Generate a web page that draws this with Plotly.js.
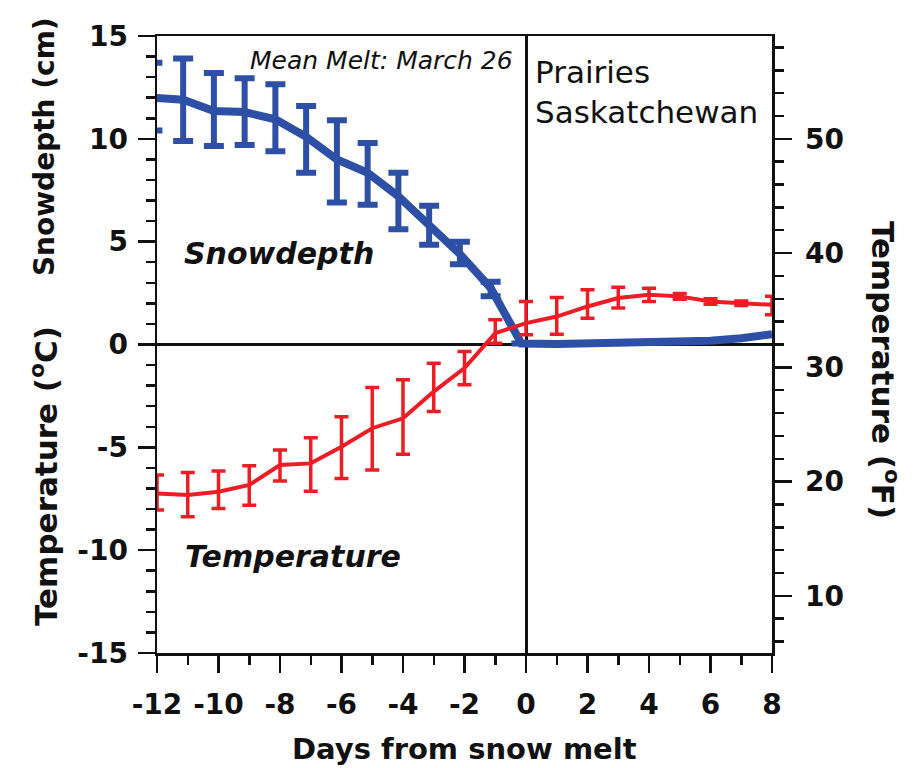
<!DOCTYPE html>
<html>
<head>
<meta charset="utf-8">
<script src="https://cdn.plot.ly/plotly-3.0.1.min.js"></script>
<style>html,body{margin:0;padding:0;background:#fff;}#chart{width:920px;height:768px;}</style>
</head>
<body>
<div id="chart"></div>
<script>
// Snow depth (cm), days from snow melt
var snowDays = [-12.15, -11.15, -10.15, -9.15, -8.15, -7.15, -6.15, -5.15, -4.15, -3.15, -2.15, -1.15, -0.15, 1, 2, 3, 4, 5, 6, 7, 8];
var snowDepth = [12.0, 11.9, 11.35, 11.3, 10.95, 10.1, 9.0, 8.35, 7.2, 5.8, 4.4, 2.75, 0.05, 0.02, 0.04, 0.06, 0.08, 0.12, 0.18, 0.3, 0.5];
var snowErrPlus = [1.7, 2.0, 1.85, 1.65, 1.7, 1.5, 1.9, 1.45, 1.15, 0.95, 0.6, 0.3, 0];
var snowErrMinus = [1.6, 2.0, 1.7, 1.6, 1.55, 1.75, 2.1, 1.55, 1.6, 0.95, 0.5, 0.4, 0];

// Air temperature (deg C)
var tempDays = [-12, -11, -10, -9, -8, -7, -6, -5, -4, -3, -2, -1, 0, 1, 2, 3, 4, 5, 6, 7, 8];
var tempMean = [-7.24, -7.32, -7.16, -6.83, -5.86, -5.78, -4.97, -4.07, -3.59, -2.29, -1.15, 0.55, 1.04, 1.36, 1.85, 2.26, 2.42, 2.34, 2.09, 2.01, 1.93];
var tempHigh = [-6.35, -6.22, -6.15, -5.89, -5.13, -4.53, -3.51, -2.09, -1.72, -0.91, -0.34, 1.2, 2.09, 2.29, 2.66, 2.78, 2.74, 2.48, 2.22, 2.12, 2.34];
var tempLow = [-8.05, -8.38, -7.97, -7.81, -6.64, -7.13, -6.51, -6.1, -5.34, -3.26, -1.96, 0.06, 0.47, 0.5, 1.28, 1.77, 2.09, 2.2, 1.96, 1.9, 1.45];

// Axis ticks
var dayTicks = [-12, -10, -8, -6, -4, -2, 0, 2, 4, 6, 8];
var celsiusTicks = [-15, -10, -5, 0, 5, 10, 15];
var fahrenheitTicks = [10, 20, 30, 40, 50];

var BLUE = '#2d4fa6';
var RED = '#ee1c25';
var FONT = 'DejaVu Sans';

var nPre = snowErrPlus.length;
var tempPlus = tempMean.map(function (v, i) { return +(tempHigh[i] - v).toFixed(3); });
var tempMinus = tempMean.map(function (v, i) { return +(v - tempLow[i]).toFixed(3); });

var traces = [
  {
    x: snowDays, y: snowDepth, type: 'scatter', mode: 'lines',
    line: { color: BLUE, width: 8 },
    hoverinfo: 'skip', showlegend: false
  },
  {
    x: snowDays.slice(0, nPre), y: snowDepth.slice(0, nPre), type: 'scatter', mode: 'markers',
    marker: { color: BLUE, size: 2 },
    error_y: { type: 'data', symmetric: false, array: snowErrPlus, arrayminus: snowErrMinus,
               color: BLUE, thickness: 6, width: 10 },
    hoverinfo: 'skip', showlegend: false
  },
  {
    x: tempDays, y: tempMean, type: 'scatter', mode: 'lines',
    line: { color: RED, width: 4 },
    error_y: { type: 'data', symmetric: false, array: tempPlus, arrayminus: tempMinus,
               color: RED, thickness: 3.5, width: 7 },
    hoverinfo: 'skip', showlegend: false
  },
  {
    x: [-12], y: [5], yaxis: 'y2', type: 'scatter', mode: 'none',
    hoverinfo: 'skip', showlegend: false
  }
];

var tickFont = { family: FONT, size: 28, weight: 'bold', color: '#111' };
var titleFont = { family: FONT, size: 28, weight: 'bold', color: '#111' };
var tempTitleFont = { family: FONT, size: 31, weight: 'bold', color: '#111' };

var layout = {
  width: 920, height: 768,
  margin: { l: 157, r: 148, t: 36, b: 115 },
  paper_bgcolor: '#fff', plot_bgcolor: '#fff',
  showlegend: false,
  xaxis: {
    range: [-12, 8], tickvals: dayTicks, ticktext: dayTicks.map(String),
    ticks: 'outside', ticklen: 17, tickwidth: 2.5, tickcolor: '#111',
    minor: { dtick: 1, tick0: 0, ticks: 'outside', ticklen: 9, tickwidth: 2.5, tickcolor: '#111' },
    showline: true, linecolor: '#111', linewidth: 2.5, mirror: true,
    showgrid: false, zeroline: true, zerolinecolor: '#111', zerolinewidth: 3,
    tickfont: tickFont, ticklabelstandoff: 8, fixedrange: true
  },
  yaxis: {
    range: [-15, 15], tickvals: celsiusTicks, ticktext: celsiusTicks.map(String),
    ticks: 'outside', ticklen: 17, tickwidth: 2.5, tickcolor: '#111',
    minor: { dtick: 1, tick0: 0, ticks: 'outside', ticklen: 9, tickwidth: 2.5, tickcolor: '#111' },
    showline: true, linecolor: '#111', linewidth: 2.5, mirror: true,
    showgrid: false, zeroline: true, zerolinecolor: '#111', zerolinewidth: 2.5,
    tickfont: tickFont, ticklabelstandoff: 4, fixedrange: true
  },
  yaxis2: {
    overlaying: 'y', side: 'right', range: [5, 59],
    tickvals: fahrenheitTicks, ticktext: fahrenheitTicks.map(String),
    ticks: 'outside', ticklen: 17, tickwidth: 2.5, tickcolor: '#111',
    minor: { dtick: 2, tick0: 0, ticks: 'outside', ticklen: 9, tickwidth: 2.5, tickcolor: '#111' },
    showline: true, linecolor: '#111', linewidth: 2.5,
    showgrid: false, zeroline: false,
    tickfont: tickFont, ticklabelstandoff: 8, fixedrange: true
  },
  annotations: [
    { xref: 'paper', yref: 'paper', x: 0.5, y: -0.155, xanchor: 'center', yanchor: 'middle',
      text: 'Days from snow melt', showarrow: false,
      font: { family: FONT, size: 29, weight: 'bold', color: '#111' } },
    { xref: 'paper', yref: 'paper', x: -0.1837, y: 0.82, xanchor: 'center', yanchor: 'middle',
      text: 'Snowdepth (cm)', textangle: -90, showarrow: false, font: titleFont },
    { xref: 'paper', yref: 'paper', x: -0.1837, y: 0.287, xanchor: 'center', yanchor: 'middle',
      text: 'Temperature (<sup>o</sup>C)', textangle: -90, showarrow: false, font: tempTitleFont },
    { xref: 'paper', yref: 'paper', x: 1.1837, y: 0.4587, xanchor: 'center', yanchor: 'middle',
      text: 'Temperature (<sup>o</sup>F)', textangle: 90, showarrow: false, font: tempTitleFont },
    { xref: 'paper', yref: 'paper', x: 0.582, y: 0.961, xanchor: 'right', yanchor: 'middle',
      text: 'Mean Melt: March 26', showarrow: false,
      font: { family: FONT, size: 25, style: 'italic', color: '#111' } },
    { xref: 'paper', yref: 'paper', x: 0.611, y: 0.942, xanchor: 'left', yanchor: 'middle',
      text: 'Prairies', showarrow: false, font: { family: FONT, size: 31, color: '#111' } },
    { xref: 'paper', yref: 'paper', x: 0.611, y: 0.877, xanchor: 'left', yanchor: 'middle',
      text: 'Saskatchewan', showarrow: false, font: { family: FONT, size: 31, color: '#111' } },
    { xref: 'paper', yref: 'paper', x: 0.041, y: 0.647, xanchor: 'left', yanchor: 'middle',
      text: 'Snowdepth', showarrow: false,
      font: { family: FONT, size: 30, weight: 'bold', style: 'italic', color: '#111' } },
    { xref: 'paper', yref: 'paper', x: 0.042, y: 0.157, xanchor: 'left', yanchor: 'middle',
      text: 'Temperature', showarrow: false,
      font: { family: FONT, size: 30, weight: 'bold', style: 'italic', color: '#111' } }
  ]
};

Plotly.newPlot('chart', traces, layout, { staticPlot: true, displayModeBar: false });
</script>
</body>
</html>
